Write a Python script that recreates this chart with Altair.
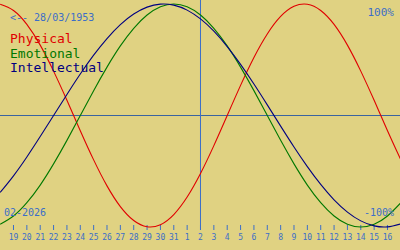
import altair as alt
import pandas as pd

# day labels along the axis (19 Jan .. 16 Feb 2026)
day_labels = ["19", "20", "21", "22", "23", "24", "25", "26", "27", "28", "29", "30", "31",
              "1", "2", "3", "4", "5", "6", "7", "8", "9", "10", "11", "12", "13", "14", "15", "16"]
# positions (day index) for curve points, one day before and after the axis range
idx = list(range(-1, 30))
physical = [0.998, 0.942, 0.817, 0.631, 0.398, 0.136, -0.136, -0.398, -0.631, -0.817, -0.942,
            -0.998, -0.979, -0.888, -0.731, -0.520, -0.270, 0.0, 0.270, 0.520, 0.731, 0.888,
            0.979, 0.998, 0.942, 0.817, 0.631, 0.398, 0.136, -0.136, -0.398]
emotional = [-0.975, -0.901, -0.782, -0.624, -0.434, -0.223, 0.0, 0.223, 0.434, 0.624, 0.782,
             0.901, 0.975, 1.0, 0.975, 0.901, 0.782, 0.624, 0.434, 0.223, 0.0, -0.223, -0.434,
             -0.624, -0.782, -0.901, -0.975, -1.0, -0.975, -0.901, -0.782]
intellectual = [-0.690, -0.541, -0.372, -0.189, 0.0, 0.189, 0.372, 0.541, 0.690, 0.815, 0.910,
                0.972, 0.999, 0.990, 0.945, 0.866, 0.756, 0.618, 0.458, 0.282, 0.095, -0.095,
                -0.282, -0.458, -0.618, -0.756, -0.866, -0.945, -0.990, -0.999, -0.972]
series_names = ["Physical", "Emotional", "Intellectual"]
series_colors = ["#e00000", "#007800", "#000080"]
today_index = 14  # day "2"

BG = "#e0d282"
BLUE = "#3c6ec8"
FONT = "DejaVu Sans Mono"

rows = []
for name, vals in zip(series_names, [physical, emotional, intellectual]):
    for i, v in zip(idx, vals):
        rows.append({"i": i, "v": v, "series": name})
df = pd.DataFrame(rows)
days_df = pd.DataFrame({"i": list(range(len(day_labels))), "label": day_labels})

xscale = alt.Scale(domain=[-1.0107, 28.936], nice=False, zero=False)
yscale = alt.Scale(domain=[-1.2063, 1.0359], nice=False, zero=False)

lines = alt.Chart(df).mark_line(strokeWidth=1.1, interpolate="natural", clip=True).encode(
    x=alt.X("i:Q", scale=xscale, axis=None),
    y=alt.Y("v:Q", scale=yscale, axis=None),
    color=alt.Color("series:N", scale=alt.Scale(domain=series_names, range=series_colors), legend=None),
    detail="series:N",
)

ticks = alt.Chart(days_df).mark_rule(color=BLUE, strokeWidth=1).encode(
    x=alt.X("i:Q", scale=xscale, axis=None), y=alt.value(225), y2=alt.value(230)
)
tick_labels = alt.Chart(days_df).mark_text(
    font=FONT, fontSize=8, color=BLUE, baseline="middle", align="center"
).encode(x=alt.X("i:Q", scale=xscale, axis=None), y=alt.value(238), text="label:N")

hline = alt.Chart(pd.DataFrame({"v": [0.0]})).mark_rule(color="#3a64a0", strokeWidth=1).encode(
    y=alt.Y("v:Q", scale=yscale, axis=None)
)
vline = alt.Chart(pd.DataFrame({"i": [today_index]})).mark_rule(color=BLUE, strokeWidth=1).encode(
    x=alt.X("i:Q", scale=xscale, axis=None), y=alt.value(0), y2=alt.value(230)
)

def txt(text, x, y, size, color, align="left"):
    return alt.Chart(pd.DataFrame({"t": [text]})).mark_text(
        font=FONT, fontSize=size, color=color, align=align, baseline="alphabetic"
    ).encode(text="t:N", x=alt.value(x), y=alt.value(y))

texts = [
    txt("<-- 28/03/1953", 10, 20.5, 10, BLUE),
    txt("Physical", 10, 43, 13, series_colors[0]),
    txt("Emotional", 10, 57.5, 13, series_colors[1]),
    txt("Intellectual", 10, 72, 13, series_colors[2]),
    txt("100%", 394, 16, 11, BLUE, "right"),
    txt("-100%", 394, 216, 10, BLUE, "right"),
    txt("02-2026", 4, 216, 10, BLUE),
]

chart = alt.layer(hline, vline, ticks, tick_labels, lines, *texts).properties(
    width=400, height=250, background=BG, padding=0,
    autosize=alt.AutoSizeParams(type="none"),
).configure_view(strokeWidth=0, fill=BG)

chart.save("out.html", embed_options={"renderer": "svg", "actions": False})
